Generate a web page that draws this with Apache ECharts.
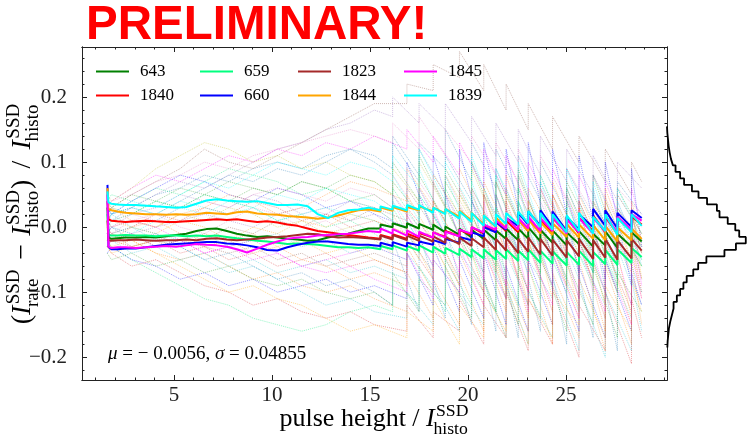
<!DOCTYPE html>
<html>
<head>
<meta charset="utf-8">
<script src="https://cdn.jsdelivr.net/npm/echarts@6.0.0/dist/echarts.min.js"></script>
<style>
  html, body { margin: 0; padding: 0; background: #fff; }
  #chart { width: 753px; height: 441px; }
</style>
</head>
<body>
<div id="chart"></div>
<script>
// ---------- runs that are highlighted ----------
const runNames = ['643', '1840', '659', '660', '1823', '1844', '1845', '1839'];

// x positions of the smooth part and of the saw-tooth refills
const runX = [1.6, 1.65, 1.80, 2.11, 2.52, 3.04, 3.56, 4.07, 4.59, 5.10, 5.62, 6.14, 6.65, 7.17, 7.69,
              8.20, 8.72, 9.24, 9.75, 10.27, 10.78, 11.30, 11.82, 12.33, 12.85, 13.37, 13.88, 14.40, 14.91];
const runTeethX = [15.53, 16.15, 16.88, 17.50, 18.22, 18.84, 19.56, 20.18, 20.80, 21.42, 21.94,
                   22.56, 23.07, 23.69, 24.31, 25.03, 25.66, 26.38, 27.00, 27.62, 28.34];
const runEndX = 28.86;

const smooth643  = [0.03, -0.016, -0.018, -0.017, -0.016, -0.016, -0.015, -0.016, -0.014, -0.012, -0.010, -0.006, -0.003, -0.002, -0.006, -0.010, -0.013, -0.015, -0.014, -0.016, -0.018, -0.019, -0.021, -0.020, -0.016, -0.013, -0.010, -0.006, -0.002];
const smooth1840 = [0.04, 0.012, 0.010, 0.009, 0.008, 0.009, 0.010, 0.009, 0.008, 0.008, 0.009, 0.010, 0.011, 0.012, 0.011, 0.012, 0.010, 0.008, 0.009, 0.007, 0.004, 0.002, -0.002, -0.006, -0.008, -0.010, -0.012, -0.014, -0.016];
const smooth659  = [0.02, -0.012, -0.013, -0.013, -0.012, -0.013, -0.013, -0.014, -0.013, -0.013, -0.014, -0.013, -0.014, -0.013, -0.015, -0.017, -0.019, -0.021, -0.022, -0.024, -0.026, -0.025, -0.026, -0.027, -0.029, -0.031, -0.031, -0.032, -0.031];
const smooth660  = [0.065, -0.030, -0.034, -0.034, -0.033, -0.033, -0.031, -0.029, -0.027, -0.026, -0.025, -0.024, -0.023, -0.023, -0.025, -0.026, -0.028, -0.031, -0.035, -0.036, -0.031, -0.027, -0.024, -0.022, -0.022, -0.024, -0.026, -0.027, -0.027];
const smooth1823 = [0.01, -0.020, -0.021, -0.020, -0.020, -0.019, -0.020, -0.021, -0.020, -0.020, -0.019, -0.020, -0.018, -0.017, -0.019, -0.020, -0.019, -0.018, -0.016, -0.015, -0.014, -0.012, -0.010, -0.011, -0.014, -0.016, -0.015, -0.016, -0.017];
const smooth1844 = [0.06, 0.028, 0.026, 0.024, 0.022, 0.021, 0.020, 0.020, 0.019, 0.020, 0.019, 0.020, 0.022, 0.021, 0.020, 0.023, 0.024, 0.021, 0.020, 0.019, 0.017, 0.016, 0.015, 0.013, 0.015, 0.018, 0.022, 0.026, 0.027];
const smooth1845 = [0.05, -0.030, -0.032, -0.031, -0.031, -0.032, -0.031, -0.030, -0.029, -0.030, -0.028, -0.026, -0.027, -0.028, -0.030, -0.034, -0.039, -0.033, -0.027, -0.022, -0.018, -0.016, -0.015, -0.013, -0.012, -0.011, -0.010, -0.008, -0.006];
const smooth1839 = [0.055, 0.038, 0.036, 0.035, 0.034, 0.034, 0.033, 0.032, 0.031, 0.030, 0.031, 0.036, 0.041, 0.043, 0.041, 0.040, 0.039, 0.040, 0.037, 0.034, 0.034, 0.035, 0.032, 0.020, 0.014, 0.022, 0.026, 0.027, 0.030];

// value just before / just after each refill
const teeth643  = [-0.002,0.004, 0.000,0.006, -0.001,0.006, -0.002,0.005, -0.004,0.004, -0.008,0.001, -0.012,-0.002, -0.016,-0.004, -0.018,-0.004, -0.020,-0.005, -0.018,-0.002, -0.020,-0.002, -0.018,0.000, -0.022,-0.004, -0.024,-0.005, -0.028,-0.008, -0.026,-0.006, -0.030,-0.010, -0.028,-0.006, -0.032,-0.010, -0.030,-0.008];
const teeth1840 = [-0.018,-0.012, -0.017,-0.011, -0.018,-0.010, -0.017,-0.009, -0.016,-0.008, -0.015,-0.006, -0.014,-0.004, -0.012,0.000, -0.010,0.004, -0.008,0.008, -0.006,0.010, -0.008,0.012, -0.006,0.014, -0.009,0.012, -0.010,0.014, -0.008,0.016, -0.010,0.014, -0.006,0.018, -0.008,0.016, -0.010,0.014, -0.006,0.016];
const teeth659  = [-0.034,-0.029, -0.034,-0.028, -0.036,-0.029, -0.036,-0.028, -0.039,-0.030, -0.041,-0.032, -0.043,-0.033, -0.046,-0.034, -0.048,-0.034, -0.050,-0.035, -0.049,-0.034, -0.052,-0.036, -0.051,-0.034, -0.055,-0.036, -0.056,-0.037, -0.059,-0.038, -0.058,-0.036, -0.060,-0.038, -0.057,-0.035, -0.058,-0.034, -0.055,-0.032];
const teeth660  = [-0.029,-0.024, -0.029,-0.023, -0.030,-0.024, -0.028,-0.022, -0.027,-0.020, -0.026,-0.018, -0.024,-0.015, -0.020,-0.008, -0.014,0.000, -0.008,0.008, -0.004,0.014, 0.002,0.022, 0.004,0.024, 0.002,0.026, 0.000,0.024, -0.006,0.016, -0.004,0.020, 0.000,0.028, 0.002,0.026, -0.002,0.022, 0.000,0.026];
const teeth1823 = [-0.019,-0.013, -0.019,-0.012, -0.020,-0.013, -0.021,-0.013, -0.022,-0.014, -0.024,-0.015, -0.026,-0.016, -0.029,-0.017, -0.031,-0.016, -0.035,-0.018, -0.036,-0.016, -0.040,-0.018, -0.038,-0.016, -0.042,-0.018, -0.044,-0.019, -0.047,-0.020, -0.045,-0.018, -0.049,-0.020, -0.047,-0.018, -0.050,-0.020, -0.048,-0.018];
const teeth1844 = [0.024,0.030, 0.025,0.031, 0.024,0.031, 0.026,0.032, 0.024,0.030, 0.021,0.028, 0.016,0.025, 0.010,0.022, 0.004,0.018, 0.000,0.015, -0.002,0.014, -0.005,0.012, -0.006,0.012, -0.010,0.008, -0.012,0.006, -0.015,0.005, -0.016,0.004, -0.018,0.003, -0.020,0.002, -0.022,0.000, -0.020,-0.002];
const teeth1845 = [-0.008,-0.002, -0.010,-0.003, -0.013,-0.005, -0.015,-0.007, -0.016,-0.008, -0.016,-0.007, -0.014,-0.004, -0.010,0.000, -0.008,0.004, -0.004,0.010, -0.002,0.014, -0.004,0.014, -0.002,0.016, -0.006,0.014, -0.006,0.016, -0.010,0.012, -0.008,0.014, -0.010,0.014, -0.006,0.018, -0.008,0.016, -0.004,0.020];
const teeth1839 = [0.026,0.032, 0.027,0.033, 0.026,0.034, 0.027,0.034, 0.022,0.030, 0.020,0.028, 0.013,0.024, 0.008,0.022, 0.002,0.018, 0.001,0.020, 0.005,0.022, 0.004,0.024, 0.006,0.025, 0.000,0.022, -0.004,0.020, -0.008,0.018, -0.006,0.022, -0.010,0.016, -0.006,0.020, -0.012,0.014, -0.008,0.020];

const runEnd = [-0.022, 0.004, -0.046, 0.014, -0.036, -0.018, 0.010, 0.002];

const runSmooth = [smooth643, smooth1840, smooth659, smooth660, smooth1823, smooth1844, smooth1845, smooth1839];
const runTeeth  = [teeth643, teeth1840, teeth659, teeth660, teeth1823, teeth1844, teeth1845, teeth1839];

// ---------- all other runs (faint) ----------
const bgX = [1.59, 1.80, 2.83, 4.07, 5.31, 6.55, 7.79, 9.03, 10.27, 11.51, 12.75, 13.99, 15.22];
// even runs refill at the first set of positions, odd runs at the second
const bgTeethXA = [16.15, 17.50, 18.84, 20.18, 21.42, 22.56, 23.69, 25.03, 26.38, 27.62];
const bgTeethXB = [16.88, 18.22, 19.56, 20.80, 21.94, 23.07, 24.31, 25.66, 27.00, 28.34];
const bgEndX = 28.86;

const bgSmooth = [
  [0.03,0.02,0.03,0.05,0.06,0.08,0.07,0.09,0.10,0.09,0.11,0.12,0.10],
  [-0.02,-0.01,-0.02,-0.04,-0.05,-0.04,-0.06,-0.08,-0.07,-0.09,-0.10,-0.09,-0.11],
  [0.04,0.03,0.05,0.04,0.06,0.05,0.04,0.06,0.05,0.07,0.06,0.08,0.07],
  [-0.03,-0.02,-0.03,-0.02,-0.04,-0.03,-0.05,-0.04,-0.06,-0.05,-0.04,-0.06,-0.05],
  [0.01,0.02,0.03,0.05,0.07,0.06,0.08,0.10,0.12,0.13,0.15,0.16,0.18],
  [0.02,0.03,0.05,0.07,0.09,0.12,0.10,0.09,0.11,0.13,0.15,0.17,0.19],
  [0.00,-0.01,0.01,0.02,0.00,-0.01,0.01,0.03,0.02,0.00,0.01,-0.01,0.00],
  [0.01,0.02,0.00,-0.02,-0.03,-0.05,-0.07,-0.06,-0.08,-0.10,-0.12,-0.11,-0.13],
  [-0.02,-0.03,-0.05,-0.07,-0.09,-0.11,-0.12,-0.14,-0.15,-0.16,-0.15,-0.13,-0.12],
  [0.03,0.04,0.06,0.08,0.07,0.09,0.11,0.10,0.12,0.11,0.13,0.12,0.14],
  [-0.01,0.00,-0.01,0.01,0.03,0.02,0.04,0.03,0.05,0.04,0.06,0.05,0.04],
  [0.02,0.01,0.00,-0.01,0.01,0.00,-0.02,-0.01,-0.03,-0.02,-0.04,-0.03,-0.05],
  [0.05,0.04,0.06,0.09,0.11,0.13,0.12,0.10,0.11,0.09,0.10,0.08,0.07],
  [-0.04,-0.03,-0.05,-0.06,-0.08,-0.07,-0.09,-0.08,-0.10,-0.09,-0.08,-0.10,-0.09],
  [0.00,0.01,0.03,0.02,0.04,0.06,0.08,0.07,0.09,0.08,0.10,0.12,0.11],
  [-0.01,-0.02,0.00,0.01,-0.01,-0.03,-0.02,-0.04,-0.03,-0.05,-0.06,-0.08,-0.07],
  [0.02,0.03,0.02,0.04,0.03,0.05,0.07,0.06,0.05,0.07,0.06,0.04,0.05],
  [-0.03,-0.04,-0.06,-0.05,-0.07,-0.09,-0.10,-0.12,-0.11,-0.13,-0.14,-0.13,-0.15],
  [0.01,0.00,0.02,0.03,0.05,0.04,0.03,0.05,0.04,0.02,0.03,0.01,0.02],
  [-0.02,-0.01,-0.03,-0.02,-0.01,-0.02,0.00,-0.01,0.01,0.00,0.02,0.01,0.03],
  [0.03,0.04,0.05,0.07,0.08,0.10,0.09,0.11,0.12,0.13,0.14,0.15,0.14],
  [-0.01,-0.02,-0.04,-0.03,-0.05,-0.04,-0.06,-0.05,-0.07,-0.06,-0.05,-0.07,-0.06],
  [0.04,0.05,0.04,0.06,0.05,0.07,0.09,0.08,0.07,0.05,0.06,0.04,0.03],
  [-0.03,-0.02,-0.01,-0.03,-0.02,-0.04,-0.03,-0.02,-0.04,-0.06,-0.05,-0.04,-0.03],
  [0.00,0.02,0.04,0.03,0.05,0.07,0.06,0.08,0.10,0.09,0.08,0.10,0.09],
  [-0.02,-0.03,-0.02,-0.04,-0.06,-0.08,-0.10,-0.09,-0.11,-0.12,-0.14,-0.16,-0.15],
  [0.01,0.00,0.01,0.00,0.02,0.01,0.03,0.02,0.00,0.01,-0.01,0.00,-0.02],
  [0.03,0.02,0.04,0.06,0.08,0.07,0.05,0.04,0.06,0.05,0.03,0.04,0.02],
  [-0.01,0.00,-0.02,-0.01,-0.03,-0.05,-0.04,-0.06,-0.08,-0.07,-0.09,-0.08,-0.10],
  [0.02,0.03,0.01,0.00,0.02,0.03,0.05,0.04,0.02,0.03,0.05,0.07,0.06],
  [-0.04,-0.05,-0.04,-0.06,-0.05,-0.07,-0.06,-0.08,-0.09,-0.08,-0.10,-0.11,-0.10],
  [0.00,-0.01,0.00,0.02,0.01,0.03,0.02,0.04,0.03,0.01,0.02,0.00,0.01],
  [0.01,0.00,-0.01,0.00,0.01,0.02,0.01,0.00,0.02,0.03,0.02,0.04,0.03],
  [-0.01,-0.02,-0.01,-0.03,-0.02,-0.03,-0.04,-0.03,-0.05,-0.04,-0.06,-0.05,-0.04],
  [0.02,0.01,0.02,0.01,0.03,0.04,0.03,0.05,0.06,0.05,0.04,0.06,0.05],
  [-0.02,-0.01,0.00,-0.01,-0.02,-0.01,-0.03,-0.02,-0.01,-0.03,-0.02,-0.04,-0.03],
  [0.00,0.01,0.02,0.04,0.03,0.05,0.04,0.03,0.01,0.02,0.00,0.01,-0.01],
  [-0.01,0.00,0.01,0.00,-0.02,-0.04,-0.03,-0.05,-0.04,-0.06,-0.07,-0.06,-0.08],
  [0.03,0.02,0.03,0.02,0.04,0.03,0.02,0.03,0.01,0.02,0.03,0.02,0.01],
  [-0.03,-0.04,-0.03,-0.02,-0.03,-0.01,-0.02,0.00,-0.01,0.01,0.00,0.02,0.01]
];
const bgTeeth = [
  [0.08,0.13, 0.07,0.12, 0.05,0.11, 0.04,0.10, 0.02,0.09, 0.01,0.08, 0.00,0.07, -0.02,0.06, -0.03,0.05, -0.04,0.03],
  [-0.13,-0.07, -0.14,-0.08, -0.15,-0.07, -0.16,-0.08, -0.17,-0.08, -0.16,-0.06, -0.18,-0.07, -0.17,-0.05, -0.19,-0.06, -0.18,-0.05],
  [0.05,0.10, 0.04,0.11, 0.03,0.09, 0.02,0.10, 0.00,0.08, 0.01,0.09, -0.01,0.08, -0.02,0.07, -0.01,0.08, -0.03,0.06],
  [-0.07,-0.02, -0.08,-0.01, -0.09,-0.02, -0.10,-0.01, -0.11,-0.02, -0.12,-0.02, -0.13,-0.03, -0.12,-0.02, -0.14,-0.03, -0.13,-0.02],
  [0.17,0.20, 0.16,0.19, 0.15,0.19, 0.13,0.17, 0.11,0.16, 0.10,0.15, 0.08,0.14, 0.07,0.12, 0.05,0.11, 0.04,0.10],
  [0.19,0.22, 0.21,0.25, 0.23,0.27, 0.21,0.25, 0.18,0.22, 0.15,0.19, 0.12,0.17, 0.10,0.14, 0.07,0.12, 0.05,0.10],
  [-0.03,0.04, -0.04,0.05, -0.05,0.04, -0.06,0.06, -0.07,0.05, -0.06,0.07, -0.08,0.06, -0.09,0.05, -0.10,0.06, -0.09,0.04],
  [-0.14,-0.10, -0.15,-0.09, -0.16,-0.10, -0.15,-0.08, -0.17,-0.09, -0.18,-0.10, -0.17,-0.08, -0.19,-0.09, -0.20,-0.10, -0.19,-0.08],
  [-0.13,-0.08, -0.12,-0.06, -0.13,-0.05, -0.12,-0.04, -0.13,-0.03, -0.12,-0.02, -0.11,-0.01, -0.10,0.00, -0.09,0.01, -0.10,0.00],
  [0.12,0.15, 0.10,0.14, 0.08,0.13, 0.06,0.12, 0.05,0.11, 0.03,0.10, 0.02,0.09, 0.00,0.08, -0.01,0.07, -0.03,0.06],
  [0.02,0.08, 0.01,0.09, 0.00,0.08, -0.02,0.07, -0.03,0.08, -0.04,0.06, -0.05,0.07, -0.06,0.05, -0.07,0.06, -0.08,0.04],
  [-0.07,0.00, -0.08,0.01, -0.09,0.02, -0.10,0.01, -0.11,0.02, -0.12,0.03, -0.11,0.04, -0.13,0.03, -0.12,0.05, -0.14,0.03],
  [0.05,0.09, 0.04,0.10, 0.03,0.08, 0.01,0.09, 0.00,0.07, -0.01,0.08, -0.02,0.06, -0.04,0.05, -0.05,0.04, -0.06,0.03],
  [-0.11,-0.04, -0.12,-0.03, -0.13,-0.05, -0.14,-0.04, -0.15,-0.06, -0.16,-0.05, -0.15,-0.04, -0.16,-0.06, -0.17,-0.05, -0.16,-0.07],
  [0.09,0.14, 0.08,0.13, 0.09,0.15, 0.07,0.13, 0.06,0.12, 0.05,0.11, 0.04,0.10, 0.02,0.09, 0.01,0.08, 0.00,0.07],
  [-0.09,-0.03, -0.10,-0.02, -0.11,-0.04, -0.12,-0.03, -0.13,-0.01, -0.14,-0.02, -0.15,-0.03, -0.14,-0.01, -0.16,-0.02, -0.15,-0.03],
  [0.03,0.07, 0.02,0.08, 0.01,0.07, 0.00,0.06, -0.01,0.07, -0.02,0.06, -0.03,0.05, -0.02,0.06, -0.04,0.04, -0.03,0.05],
  [-0.16,-0.12, -0.17,-0.13, -0.16,-0.11, -0.18,-0.12, -0.17,-0.10, -0.19,-0.11, -0.18,-0.09, -0.20,-0.12, -0.19,-0.10, -0.21,-0.11],
  [0.00,0.05, -0.01,0.06, -0.02,0.05, -0.03,0.04, -0.04,0.05, -0.05,0.03, -0.06,0.04, -0.05,0.02, -0.07,0.03, -0.06,0.02],
  [0.01,0.06, 0.00,0.07, -0.01,0.06, -0.02,0.05, -0.01,0.06, -0.03,0.04, -0.04,0.05, -0.03,0.04, -0.05,0.03, -0.06,0.02],
  [0.13,0.16, 0.12,0.17, 0.11,0.15, 0.10,0.14, 0.08,0.13, 0.07,0.12, 0.05,0.11, 0.04,0.09, 0.02,0.08, 0.01,0.06],
  [-0.08,-0.04, -0.09,-0.05, -0.10,-0.04, -0.09,-0.03, -0.11,-0.04, -0.12,-0.05, -0.11,-0.03, -0.13,-0.04, -0.12,-0.05, -0.14,-0.06],
  [0.01,0.06, 0.00,0.05, -0.01,0.06, -0.02,0.04, -0.03,0.05, -0.04,0.04, -0.05,0.03, -0.06,0.04, -0.07,0.02, -0.08,0.01],
  [-0.05,0.02, -0.06,0.03, -0.07,0.02, -0.08,0.04, -0.09,0.03, -0.10,0.02, -0.09,0.04, -0.11,0.03, -0.10,0.02, -0.12,0.01],
  [0.07,0.11, 0.06,0.12, 0.04,0.10, 0.03,0.11, 0.01,0.09, 0.02,0.10, 0.00,0.08, -0.01,0.09, -0.02,0.07, -0.04,0.06],
  [-0.17,-0.13, -0.16,-0.11, -0.18,-0.12, -0.17,-0.10, -0.16,-0.09, -0.18,-0.11, -0.17,-0.10, -0.15,-0.08, -0.17,-0.09, -0.16,-0.08],
  [-0.04,0.02, -0.05,0.01, -0.06,0.03, -0.05,0.02, -0.07,0.01, -0.08,0.02, -0.07,0.00, -0.09,0.01, -0.08,-0.01, -0.10,0.00],
  [0.00,0.10, -0.01,0.11, -0.02,0.12, -0.03,0.13, -0.04,0.12, -0.05,0.13, -0.06,0.12, -0.07,0.11, -0.08,0.10, -0.09,0.09],
  [-0.12,-0.02, -0.13,-0.01, -0.14,0.00, -0.15,0.01, -0.16,0.00, -0.17,-0.01, -0.16,0.02, -0.18,0.01, -0.17,0.00, -0.19,-0.02],
  [0.04,0.09, 0.03,0.08, 0.02,0.09, 0.01,0.07, 0.00,0.08, -0.02,0.06, -0.01,0.07, -0.03,0.05, -0.04,0.06, -0.05,0.04],
  [-0.12,-0.07, -0.13,-0.08, -0.12,-0.06, -0.14,-0.07, -0.13,-0.05, -0.15,-0.06, -0.14,-0.04, -0.16,-0.05, -0.15,-0.06, -0.17,-0.07],
  [-0.01,0.03, -0.02,0.04, -0.03,0.03, -0.02,0.05, -0.04,0.04, -0.05,0.03, -0.04,0.05, -0.06,0.04, -0.05,0.03, -0.07,0.02],
  [0.01,0.05, 0.00,0.06, -0.01,0.05, -0.02,0.04, -0.03,0.05, -0.04,0.04, -0.05,0.03, -0.04,0.04, -0.06,0.02, -0.05,0.03],
  [-0.06,-0.01, -0.07,0.00, -0.08,-0.01, -0.07,0.01, -0.09,0.00, -0.10,-0.01, -0.09,0.01, -0.11,0.00, -0.10,-0.01, -0.12,-0.02],
  [0.03,0.08, 0.02,0.07, 0.01,0.08, 0.00,0.06, -0.01,0.07, -0.02,0.05, -0.01,0.06, -0.03,0.05, -0.04,0.04, -0.03,0.05],
  [-0.05,0.01, -0.06,0.02, -0.05,0.01, -0.07,0.02, -0.08,0.01, -0.07,0.03, -0.09,0.02, -0.08,0.01, -0.10,0.02, -0.09,0.00],
  [-0.03,0.03, -0.04,0.04, -0.03,0.03, -0.05,0.02, -0.06,0.03, -0.05,0.04, -0.07,0.03, -0.08,0.02, -0.07,0.01, -0.09,0.02],
  [-0.10,-0.04, -0.11,-0.05, -0.10,-0.03, -0.12,-0.04, -0.11,-0.02, -0.13,-0.03, -0.12,-0.04, -0.14,-0.03, -0.13,-0.05, -0.15,-0.04],
  [-0.01,0.04, -0.02,0.05, -0.01,0.04, -0.03,0.05, -0.02,0.03, -0.04,0.04, -0.03,0.02, -0.05,0.03, -0.04,0.02, -0.06,0.01],
  [-0.01,0.05, -0.02,0.04, -0.03,0.05, -0.02,0.06, -0.04,0.05, -0.03,0.04, -0.05,0.05, -0.04,0.03, -0.06,0.04, -0.05,0.02]
];
const bgEnd = [-0.03, -0.15, -0.01, -0.10, 0.06, 0.07, -0.05, -0.16, -0.06, 0.00, -0.05, -0.08, -0.04, -0.12, 0.02, -0.11,
               -0.01, -0.17, -0.03, -0.04, 0.02, -0.10, -0.06, -0.09, -0.02, -0.13, -0.06, -0.03, -0.12, -0.02, -0.13, -0.04,
               -0.02, -0.08, -0.01, -0.06, -0.05, -0.11, -0.03, -0.03];

// ---------- projected distribution (right panel) ----------
const histTop = 0.155;      // upper edge of the first bin
const histBinWidth = 0.01;
const histCounts = [1, 3, 5, 8, 12, 18, 26, 40, 52, 76, 96, 122, 152, 160, 185, 208, 220, 240, 210,
                    175, 120, 95, 80, 60, 50, 40, 30, 20, 15, 10, 6, 4, 2, 1];

const statsRich = '{i|μ} = − 0.0056, {i|σ} = 0.04855';

// ---------- axes ----------
const xMin = 0.3, xMax = 30.15, yMin = -0.235, yMax = 0.277;
const xMajor = [5, 10, 15, 20, 25];
const yMajor = [-0.2, -0.1, 0.0, 0.1, 0.2];
const xMinor = [];
for (let v = 1; v <= 30; v++) xMinor.push(v);
const yMinor = [];
for (let v = -22; v <= 26; v += 2) yMinor.push(v / 100);

const runColors = ['#008000', '#ff0000', '#00ff7f', '#0000ff', '#a52a2a', '#ffa500', '#ff00ff', '#00ffff'];
const bgColors = ['#1f77b4', '#ff7f0e', '#2ca02c', '#d62728', '#9467bd', '#8c564b', '#e377c2',
                  '#17becf', '#00e676', '#ff00ff', '#00ffff', '#ffa500', '#bcbd22', '#0000ff'];

const SERIF = '"Liberation Serif", "DejaVu Serif", serif';
const INK = '#222';

function sawPoints(xs, smooth, teethX, teeth, endX, endV) {
  const pts = [];
  xs.forEach((x, i) => pts.push([x, smooth[i]]));
  teethX.forEach((x, k) => {
    pts.push([x, teeth[2 * k]]);
    pts.push([x, teeth[2 * k + 1]]);
  });
  pts.push([endX, endV]);
  return pts;
}

const series = [];
bgSmooth.forEach((sm, i) => {
  series.push({
    type: 'line', xAxisIndex: 0, yAxisIndex: 0, silent: true, symbol: 'none',
    data: sawPoints(bgX, sm, i % 2 ? bgTeethXB : bgTeethXA, bgTeeth[i], bgEndX, bgEnd[i]),
    lineStyle: { color: bgColors[i % bgColors.length], width: 1, type: 'dotted', opacity: 0.42 },
    z: 1
  });
});
runNames.forEach((name, i) => {
  series.push({
    name, type: 'line', xAxisIndex: 0, yAxisIndex: 0, symbol: 'none',
    data: sawPoints(runX, runSmooth[i], runTeethX, runTeeth[i], runEndX, runEnd[i]),
    itemStyle: { color: runColors[i] },
    lineStyle: { color: runColors[i], width: 2 },
    z: 3
  });
});

// step outline of the histogram, drawn sideways
const histPts = [[0, histTop]];
histCounts.forEach((c, i) => {
  const hi = histTop - i * histBinWidth;
  const lo = hi - histBinWidth;
  histPts.push([c, hi], [c, lo]);
});
histPts.push([0, histTop - histCounts.length * histBinWidth]);
series.push({
  type: 'line', xAxisIndex: 4, yAxisIndex: 4, symbol: 'none', silent: true,
  data: histPts, lineStyle: { color: '#000', width: 1.8 }, z: 3
});

const fmtX = v => String(Math.round(v));
const fmtY = v => (v < -1e-9 ? '\u2212' : '') + Math.abs(v).toFixed(1);

function xAxisDef(position, ticks, len, withLabels) {
  return {
    type: 'value', gridIndex: 0, position, min: xMin, max: xMax,
    axisLine: { show: true, onZero: false, lineStyle: { color: INK, width: 1 } },
    axisTick: { show: true, inside: true, length: len, customValues: ticks, lineStyle: { color: INK, width: 1 } },
    axisLabel: { show: withLabels, customValues: ticks, formatter: fmtX, margin: 5,
                 color: INK, fontSize: 21, fontFamily: SERIF },
    splitLine: { show: false }
  };
}
function yAxisDef(position, ticks, len, withLabels) {
  return {
    type: 'value', gridIndex: 0, position, min: yMin, max: yMax,
    axisLine: { show: true, onZero: false, lineStyle: { color: INK, width: 1 } },
    axisTick: { show: true, inside: true, length: len, customValues: ticks, lineStyle: { color: INK, width: 1 } },
    axisLabel: { show: withLabels, customValues: ticks, formatter: fmtY, margin: 15,
                 color: INK, fontSize: 21, fontFamily: SERIF },
    splitLine: { show: false }
  };
}

// ---------- math-style labels built from text pieces ----------
const measureCtx = document.createElement('canvas').getContext('2d');
function fontOf(size, italic) { return (italic ? 'italic ' : '') + size + 'px ' + SERIF; }
function textWidth(str, font) { measureCtx.font = font; return measureCtx.measureText(str).width; }

function mathPieces(pieces, size) {
  const k = 0.34, ss = size * 0.68;
  const children = [];
  let x = 0;
  const put = (text, px, baseline, sz, italic) => children.push({
    type: 'text', x: px, y: baseline - k * sz,
    style: { text, font: fontOf(sz, italic), fill: '#000', textAlign: 'left', textVerticalAlign: 'middle',
             align: 'left', verticalAlign: 'middle' }
  });
  pieces.forEach(p => {
    x += (p.padL || 0) * size;
    put(p.t, x, 0, size, p.it);
    x += textWidth(p.t, fontOf(size, p.it));
    if (p.sup || p.sub) {
      let w = 0;
      if (p.sup) {
        put(p.sup, x + size * 0.05, -0.42 * size, ss, false);
        w = Math.max(w, size * 0.05 + textWidth(p.sup, fontOf(ss, false)));
      }
      if (p.sub) {
        put(p.sub, x - size * 0.05, 0.27 * size, ss, false);
        w = Math.max(w, -size * 0.05 + textWidth(p.sub, fontOf(ss, false)));
      }
      x += w + size * 0.04;
    }
    x += (p.padR || 0) * size;
  });
  return { children, width: x };
}

const xTitle = mathPieces([
  { t: 'pulse height / ' },
  { t: 'I', it: true, sup: 'SSD', sub: 'histo' }
], 26);
const yTitle = mathPieces([
  { t: '(' },
  { t: 'I', it: true, sup: 'SSD', sub: 'rate' },
  { t: '\u2212', padL: 0.3, padR: 0.3 },
  { t: 'I', it: true, sup: 'SSD', sub: 'histo' },
  { t: ')' },
  { t: '/', padL: 0.4, padR: 0.4 },
  { t: 'I', it: true, sup: 'SSD', sub: 'histo' }
], 28);

const plotLeft = 82, plotTop = 47, plotW = 585, plotH = 333;

const option = {
  animation: false,
  backgroundColor: '#fff',
  textStyle: { fontFamily: SERIF },
  grid: [
    { left: plotLeft, top: plotTop, width: plotW, height: plotH, containLabel: false },
    { left: plotLeft + plotW, top: plotTop, width: 90, height: plotH, containLabel: false }
  ],
  xAxis: [
    xAxisDef('bottom', xMajor, 5, true),
    xAxisDef('bottom', xMinor, 2.5, false),
    xAxisDef('top', xMajor, 5, false),
    xAxisDef('top', xMinor, 2.5, false),
    { type: 'value', gridIndex: 1, min: 0, max: 262, show: false }
  ],
  yAxis: [
    yAxisDef('left', yMajor, 5, true),
    yAxisDef('left', yMinor, 2.5, false),
    yAxisDef('right', yMajor, 5, false),
    yAxisDef('right', yMinor, 2.5, false),
    { type: 'value', gridIndex: 1, min: yMin, max: yMax, show: false }
  ],
  legend: [0, 1, 2, 3].map(c => ({
    orient: 'vertical', left: [91, 195, 293, 399][c], top: 58,
    data: runNames.slice(2 * c, 2 * c + 2),
    icon: 'rect', itemWidth: 33, itemHeight: 2, itemGap: 7,
    selectedMode: false,
    textStyle: { color: '#000', fontSize: 17, fontFamily: SERIF, padding: [0, 0, 0, 6], lineHeight: 17 }
  })),
  series,
  graphic: [
    {
      type: 'text', x: 86, y: 26,
      style: { text: 'PRELIMINARY!', font: 'bold 47.5px "Liberation Sans", Arial, sans-serif', fill: '#ff0000',
               textAlign: 'left', textVerticalAlign: 'middle', align: 'left', verticalAlign: 'middle' }
    },
    {
      type: 'text', x: 108, y: 354,
      style: {
        text: statsRich, fontSize: 19, fontFamily: SERIF, fill: '#000',
        rich: { i: { fontStyle: 'italic', fontSize: 19, fontFamily: SERIF, fill: '#000' } },
        textAlign: 'left', textVerticalAlign: 'middle', align: 'left', verticalAlign: 'middle'
      }
    },
    {
      type: 'group', x: plotLeft + plotW / 2 - xTitle.width / 2, y: 428,
      children: xTitle.children
    },
    {
      type: 'group', x: 32, y: plotTop + plotH / 2 + yTitle.width / 2, rotation: Math.PI / 2,
      children: yTitle.children
    }
  ]
};

const chart = echarts.init(document.getElementById('chart'), null, { renderer: 'canvas' });
chart.setOption(option);
</script>
</body>
</html>
